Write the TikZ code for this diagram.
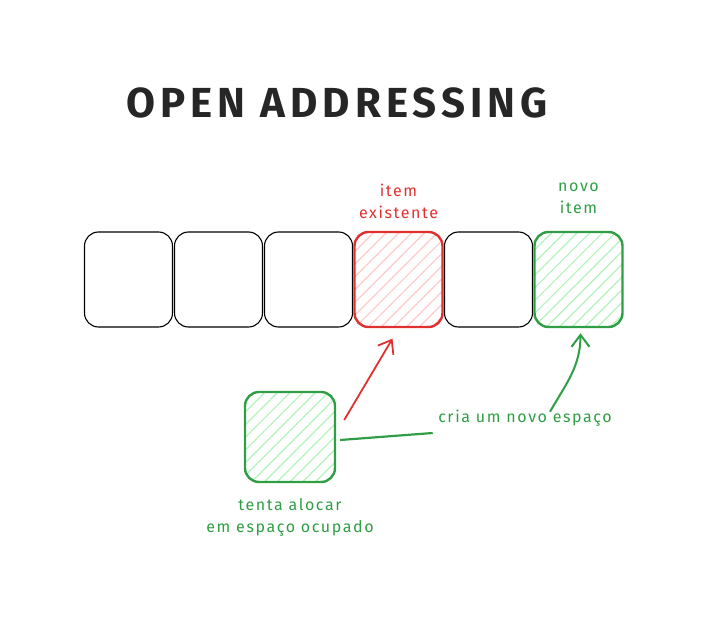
\documentclass[tikz,border=0pt]{standalone}
\usepackage{fontspec}
\setmainfont{Fira Sans}
\newfontfamily\handfont[LetterSpace=10]{Fira Sans}
\newfontfamily\titlefont[LetterSpace=12]{Fira Sans}
\usepackage{tikz}
\usetikzlibrary{arrows.meta, patterns.meta, positioning, calc}

\definecolor{xred}{HTML}{E03131}
\definecolor{xredfill}{HTML}{FFC9C9}
\definecolor{xgreen}{HTML}{2F9E44}
\definecolor{xgreenfill}{HTML}{B2F2BB}

\tikzset{
  cell/.style={draw, rounded corners=14pt, minimum width=88pt, minimum height=95pt, line width=1.1pt},
  cellred/.style={cell, draw=xred, line width=2.4pt, pattern={Lines[angle=45,distance=9pt,line width=1.2pt]}, pattern color=xredfill},
  cellgreen/.style={cell, draw=xgreen, line width=2.4pt, pattern={Lines[angle=45,distance=9pt,line width=1.2pt]}, pattern color=xgreenfill},
  lbl/.style={font=\handfont\fontsize{16}{22}\selectfont, align=center}
}

\begin{document}
\begin{tikzpicture}[x=1pt, y=1pt, >={Straight Barb[length=12pt,width=18pt]}]
\useasboundingbox (0,0) rectangle (720,619);

% Title
\node[font=\titlefont\fontsize{42}{48}\selectfont\bfseries, text=black!85] (title) at (337,516) {OPEN ADDRESSING};

% Table cells
\node[cell] (c1) at (128.5,339.5) {};
\node[cell] (c2) at (218.5,339.5) {};
\node[cell] (c3) at (308.5,339.5) {};
\node[cellred] (c4) at (398.5,339.5) {};
\node[cell] (c5) at (488.5,339.5) {};
\node[cellgreen] (c6) at (578.5,339.5) {};

% Labels above cells
\node[lbl, text=xred] (existente) at (398.5,418) {item\\existente};
\node[lbl, text=xgreen] (novo) at (578.5,421) {novo\\item};

% New item
\node[cellgreen, minimum width=90pt, minimum height=90pt] (new) at (290,182) {};
\node[lbl, text=xgreen] (tenta) at (290,102) {tenta alocar\\em espaço ocupado};
\node[lbl, text=xgreen] (cria) at (525,201) {cria um novo espaço};

% Connectors
\draw[->, xred, line width=1.8pt] ([xshift=8pt,yshift=17pt]new.east) -- ([xshift=-6pt,yshift=-11pt]c4.south);
\draw[xgreen, line width=2.2pt] ([xshift=4pt,yshift=-3pt]new.east) -- ([xshift=-2pt,yshift=-15pt]cria.west);
\draw[->, xgreen, line width=2pt] ([xshift=25pt,yshift=18pt]cria.south) to[out=60, in=-90] ([xshift=2pt,yshift=-5pt]c6.south);
\end{tikzpicture}
\end{document}
